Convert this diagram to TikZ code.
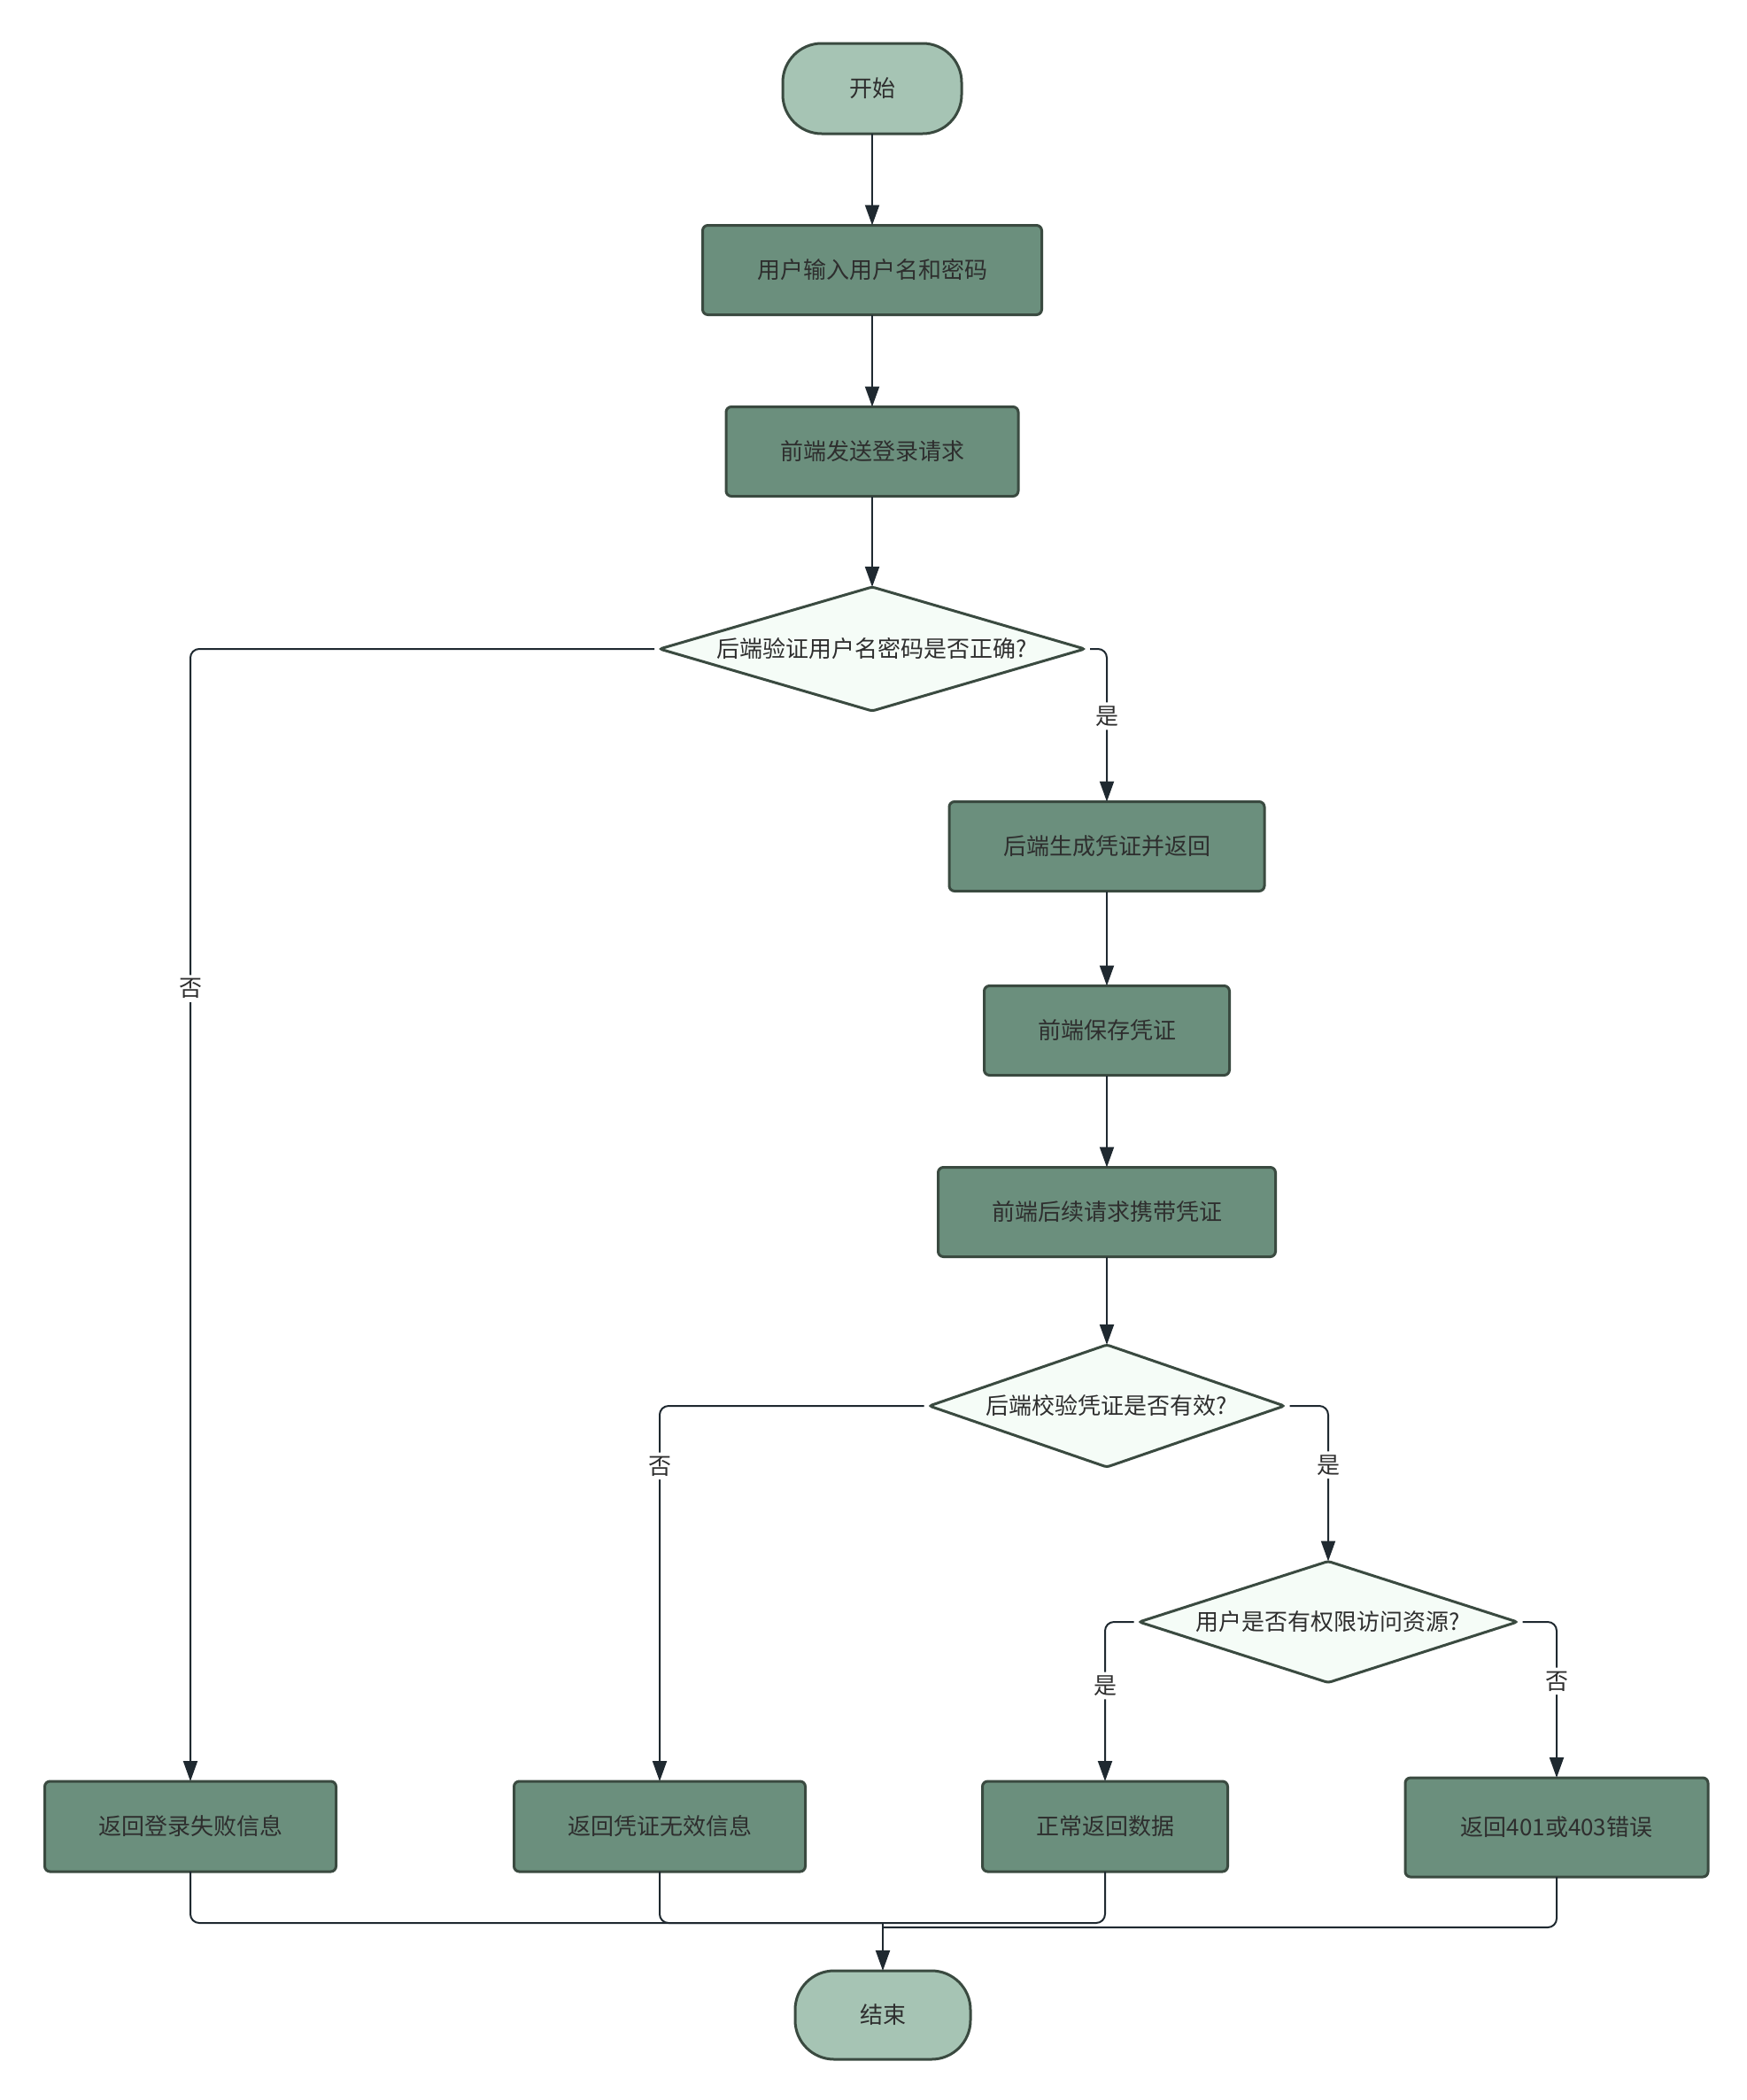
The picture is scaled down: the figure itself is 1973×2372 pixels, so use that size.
\documentclass[tikz,border=0pt]{standalone}
\usepackage{fontspec}
\newfontfamily\cjk{Noto Sans CJK SC}
\usetikzlibrary{shapes.geometric,arrows.meta}
\definecolor{termfill}{HTML}{A6C4B4}
\definecolor{procfill}{HTML}{6B8F7D}
\definecolor{decfill}{HTML}{F5FCF7}
\definecolor{nodeline}{HTML}{3A4A40}
\definecolor{connline}{HTML}{1F2930}
\definecolor{txt}{HTML}{2E2E2E}
\tikzset{
  base/.style={draw=nodeline, line width=1.5pt, text=txt, inner sep=0pt, outer sep=0pt,
    font=\cjk\fontsize{13}{15}\selectfont},
  term/.style={base, fill=termfill, rectangle, rounded corners=22pt},
  proc/.style={base, fill=procfill, rectangle, rounded corners=3pt, minimum height=50.5pt},
  dec/.style={base, fill=decfill, diamond, rounded corners=1.5pt},
  conn/.style={draw=connline, line width=1pt, rounded corners=5pt,
    -{Triangle[length=11.5pt,width=8pt]}},
  side/.style={shorten <=3pt},
  plain/.style={draw=connline, line width=1pt, rounded corners=5pt},
  lbl/.style={fill=white, text=txt, inner sep=2pt, font=\cjk\fontsize{13}{15}\selectfont},
}
\begin{document}
\begin{tikzpicture}[x=0.5pt,y=-0.5pt]
\useasboundingbox[fill=white] (0,0) rectangle (1973,2372);
% nodes
\node[term, minimum width=101pt, minimum height=51pt] (start) at (985,100) {开始};
\node[proc, minimum width=191.5pt] (b1) at (985,305) {用户输入用户名和密码};
\node[proc, minimum width=165pt] (b2) at (985,510) {前端发送登录请求};
\node[dec, aspect=3.43, minimum width=240pt, minimum height=70pt] (d1) at (985,733) {后端验证用户名密码是否正确?};
\node[proc, minimum width=178pt] (b3) at (1250,956) {后端生成凭证并返回};
\node[proc, minimum width=138.5pt] (b4) at (1250,1164) {前端保存凭证};
\node[proc, minimum width=190.5pt] (b5) at (1250,1369) {前端后续请求携带凭证};
\node[dec, aspect=2.9, minimum width=200.5pt, minimum height=69pt] (d2) at (1250,1588) {后端校验凭证是否有效?};
\node[dec, aspect=3.12, minimum width=213.5pt, minimum height=68.5pt] (d3) at (1500,1832) {用户是否有权限访问资源?};
\node[proc, minimum width=164.5pt, minimum height=51pt] (ra) at (215,2063) {返回登录失败信息};
\node[proc, minimum width=164.5pt, minimum height=51pt] (rb) at (745,2063) {返回凭证无效信息};
\node[proc, minimum width=138.5pt, minimum height=51pt] (rc) at (1248,2063) {正常返回数据};
\node[proc, minimum width=171pt, minimum height=56pt] (rd) at (1758,2064) {返回401或403错误};
\node[term, minimum width=99pt, minimum height=50pt] (fin) at (997,2276) {结束};
\coordinate (m1) at (997,2172);
\coordinate (m2) at (997,2177);
% connectors
\draw[conn] (start) -- (b1);
\draw[conn] (b1) -- (b2);
\draw[conn] (b2) -- (d1);
\draw[conn, side] (d1.east) -| node[lbl, pos=0.72] {是} (b3.north);
\draw[conn, side] (d1.west) -| node[lbl, pos=0.65] {否} (ra.north);
\draw[conn] (b3) -- (b4);
\draw[conn] (b4) -- (b5);
\draw[conn] (b5) -- (d2);
\draw[conn, side] (d2.east) -| node[lbl, pos=0.69] {是} (d3.north);
\draw[conn, side] (d2.west) -| node[lbl, pos=0.58] {否} (rb.north);
\draw[conn, side] (d3.west) -| node[lbl, pos=0.70] {是} (rc.north);
\draw[conn, side] (d3.east) -| node[lbl, pos=0.69] {否} (rd.north);
\draw[plain] (ra.south) |- (m1);
\draw[plain] (rb.south) |- (m1);
\draw[plain] (rc.south) |- (m1);
\draw[plain] (rd.south) |- (m2);
\draw[conn] (m1) -- (fin.north);
\end{tikzpicture}
\end{document}
